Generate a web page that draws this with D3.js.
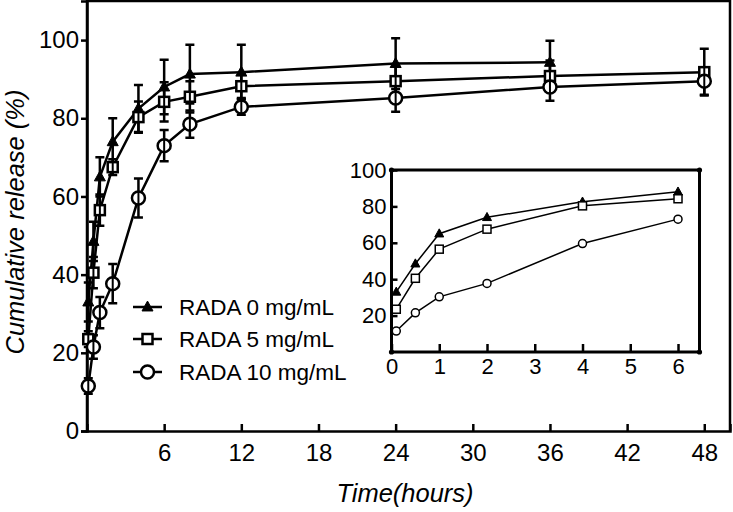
<!DOCTYPE html>
<html><head><meta charset="utf-8">
<script src="https://cdn.jsdelivr.net/npm/d3@7"></script>
<style>body{margin:0;background:#fff}svg{display:block}text{font-family:"Liberation Sans",Arial,sans-serif;fill:#000}</style>
</head><body>
<svg id="c" width="733" height="512"></svg>
<script>
const times = [0.1, 0.5, 1, 2, 4, 6, 8, 12, 24, 36, 48];
const rada0 = [33, 48.5, 65, 74, 82.5, 88, 91.3, 91.8, 94, 94.3];
const rada0Err = [5, 5, 5, 6, 6, 7, 7.5, 7, 6.5, 5.5];
const rada5 = [23.5, 40.5, 56.5, 67.5, 80.3, 84.2, 85.5, 88.2, 89.5, 90.8, 91.8];
const rada5Err = [2, 4, 4, 2, 4, 5, 4, 3, 4, 4, 6];
const rada10 = [11.5, 21.5, 30.3, 37.7, 59.6, 73, 78.5, 82.9, 85.2, 88, 89.5];
const rada10Err = [2, 3, 4, 5, 5, 4, 3.5, 2, 3.5, 3.5, 3.5];
const seriesNames = ["RADA 0 mg/mL", "RADA 5 mg/mL", "RADA 10 mg/mL"];
const seriesShapes = ["triangle", "square", "circle"];
const mainXTicks = [6, 12, 18, 24, 30, 36, 42, 48];
const mainYTicks = [0, 20, 40, 60, 80, 100];
const insetXTicks = [0, 1, 2, 3, 4, 5, 6];
const insetYTicks = [20, 40, 60, 80, 100];

const series = [
  {name: seriesNames[0], shape: seriesShapes[0], vals: rada0, errs: rada0Err},
  {name: seriesNames[1], shape: seriesShapes[1], vals: rada5, errs: rada5Err},
  {name: seriesNames[2], shape: seriesShapes[2], vals: rada10, errs: rada10Err}
].map(s => ({...s, pts: s.vals.map((v, i) => ({t: times[i], v, e: s.errs[i]}))}));

const svg = d3.select("#c");
const x = d3.scaleLinear([0, 50], [87, 730]);
const y = d3.scaleLinear([0, 110], [431, 1]);
const FONT = "Liberation Sans, Arial, sans-serif";

function marker(g, shape, cx, cy, size, sw) {
  if (shape === "triangle") {
    const h = size * 0.9, w = size;
    g.append("path").attr("d", `M${cx},${cy - h*0.6}L${cx + w/2},${cy + h*0.4}L${cx - w/2},${cy + h*0.4}Z`)
      .attr("fill", "#000").attr("stroke", "#000").attr("stroke-width", 1);
  } else if (shape === "square") {
    g.append("rect").attr("x", cx - size/2).attr("y", cy - size/2).attr("width", size).attr("height", size)
      .attr("fill", "#fff").attr("stroke", "#000").attr("stroke-width", sw);
  } else {
    g.append("circle").attr("cx", cx).attr("cy", cy).attr("r", size/2)
      .attr("fill", "#fff").attr("stroke", "#000").attr("stroke-width", sw);
  }
}

// main frame
svg.append("path").attr("d", `M${x(0)},${y(0)}V${y(110)}H${x(50)}V${y(0)}`)
  .attr("fill", "none").attr("stroke", "#000").attr("stroke-width", 2.5);

// axes
const xAxis = svg.append("g").attr("transform", `translate(0,${y(0)})`)
  .call(d3.axisBottom(x).tickValues(mainXTicks).tickSize(-7).tickPadding(13));
xAxis.select(".domain").attr("stroke-width", 2.5);
xAxis.selectAll(".tick line").attr("stroke-width", 2.5);
xAxis.selectAll("text").attr("font-size", 24).attr("font-family", FONT);

const yAxis = svg.append("g").attr("transform", `translate(${x(0)},0)`)
  .call(d3.axisLeft(y).tickValues(mainYTicks).tickSize(6).tickPadding(2));
yAxis.select(".domain").attr("stroke-width", 2.5);
yAxis.selectAll(".tick line").attr("stroke-width", 2.5);
yAxis.selectAll("text").attr("font-size", 24).attr("font-family", FONT);

svg.append("text").attr("x", 405).attr("y", 502).attr("text-anchor", "middle")
  .attr("font-size", 25.5).attr("font-style", "italic").text("Time(hours)");
svg.append("text").attr("transform", "translate(24,222) rotate(-90)").attr("text-anchor", "middle")
  .attr("font-size", 25.5).attr("font-style", "italic").text("Cumulative release (%)");

// main lines, error bars, markers
const line = d3.line().x(d => x(d.t)).y(d => y(d.v));
const gm = svg.append("g");
series.forEach(s => {
  gm.append("path").attr("d", line(s.pts)).attr("fill", "none").attr("stroke", "#000").attr("stroke-width", 2.5);
});
series.forEach(s => {
  s.pts.forEach(p => {
    const cx = x(p.t);
    gm.append("path").attr("d",
      `M${cx},${y(p.v - p.e)}V${y(p.v + p.e)}M${cx - 4.5},${y(p.v + p.e)}H${cx + 4.5}M${cx - 4.5},${y(p.v - p.e)}H${cx + 4.5}`)
      .attr("fill", "none").attr("stroke", "#000").attr("stroke-width", 2.5);
  });
});
series.forEach(s => {
  s.pts.forEach(p => {
    const sz = s.shape === "triangle" ? 11 : (s.shape === "square" ? 10 : 13);
    marker(gm, s.shape, x(p.t), y(p.v), sz, 2.5);
    if (s.shape !== "triangle") {
      gm.append("path").attr("d", `M${x(p.t)},${y(p.v) - sz/2}V${y(p.v) + sz/2}`).attr("stroke", "#000").attr("stroke-width", 2);
    }
  });
});

// legend
const lg = svg.append("g");
const legendY = [307, 339, 372];
series.forEach((s, i) => {
  const ly = legendY[i];
  lg.append("path").attr("d", `M133,${ly}H162`).attr("stroke", "#000").attr("stroke-width", 2.5);
  marker(lg, s.shape, 147.5, ly, s.shape === "triangle" ? 11 : (s.shape === "square" ? 10 : 13), 2.5);
  lg.append("text").attr("x", 179).attr("y", ly + 8).attr("font-size", 22.5).text(s.name);
});

// inset
const xi = d3.scaleLinear([0, 6.45], [391.5, 699.5]);
const yi = d3.scaleLinear([0, 100], [352, 170]);
const gi = svg.append("g");
gi.append("rect").attr("x", xi(0)).attr("y", yi(100)).attr("width", xi(6.45) - xi(0)).attr("height", yi(0) - yi(100))
  .attr("fill", "#fff").attr("stroke", "#000").attr("stroke-width", 3);
[[0,0],[0,100],[6.45,0],[6.45,100]].forEach(c => {
  gi.append("circle").attr("cx", xi(c[0])).attr("cy", yi(c[1])).attr("r", 2.6).attr("fill", "#000");
});
const xiAxis = gi.append("g").attr("transform", `translate(0,${yi(0)})`)
  .call(d3.axisBottom(xi).tickValues(insetXTicks).tickFormat(d3.format("d")).tickSize(-8).tickPadding(6));
xiAxis.select(".domain").remove();
xiAxis.selectAll(".tick line").attr("stroke-width", 2.5);
xiAxis.selectAll("text").attr("font-size", 22).attr("font-family", FONT);
const yiAxis = gi.append("g").attr("transform", `translate(${xi(0)},0)`)
  .call(d3.axisLeft(yi).tickValues(insetYTicks).tickFormat(d3.format("d")).tickSize(-6).tickPadding(5));
yiAxis.select(".domain").remove();
yiAxis.selectAll(".tick line").attr("stroke-width", 2.5);
yiAxis.selectAll("text").attr("font-size", 22).attr("font-family", FONT);

const linei = d3.line().x(d => xi(d.t)).y(d => yi(d.v));
series.forEach(s => {
  const pts = s.pts.filter(p => p.t <= 6);
  gi.append("path").attr("d", linei(pts)).attr("fill", "none").attr("stroke", "#000").attr("stroke-width", 1.5);
});
series.forEach(s => {
  s.pts.filter(p => p.t <= 6).forEach(p => {
    marker(gi, s.shape, xi(p.t), yi(p.v), s.shape === "triangle" ? 9 : 8, 1.5);
  });
});
</script>
</body></html>
